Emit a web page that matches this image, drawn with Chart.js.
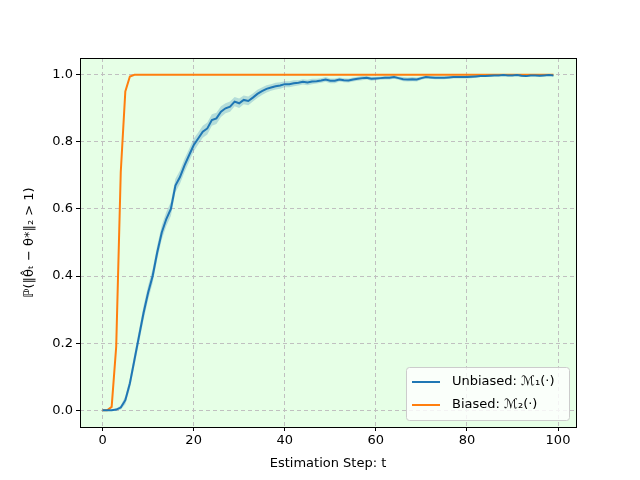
<!DOCTYPE html>
<html>
<head>
<meta charset="utf-8">
<script src="https://cdn.jsdelivr.net/npm/chart.js@4"></script>
<style>
    body { margin: 0; background: #fff; }
    #wrap { width: 640px; height: 480px; }
</style>
</head>
<body>
<div id="wrap"><canvas id="myChart" width="640" height="480"></canvas></div>
<script>
// estimation steps 0..99
const steps = [
    0, 1, 2, 3, 4, 5, 6, 7, 8, 9, 10, 11, 12, 13, 14, 15, 16, 17, 18, 19,
    20, 21, 22, 23, 24, 25, 26, 27, 28, 29, 30, 31, 32, 33, 34, 35, 36, 37, 38, 39,
    40, 41, 42, 43, 44, 45, 46, 47, 48, 49, 50, 51, 52, 53, 54, 55, 56, 57, 58, 59,
    60, 61, 62, 63, 64, 65, 66, 67, 68, 69, 70, 71, 72, 73, 74, 75, 76, 77, 78, 79,
    80, 81, 82, 83, 84, 85, 86, 87, 88, 89, 90, 91, 92, 93, 94, 95, 96, 97, 98, 99
];

const unbiased = [
    0.000, 0.000, 0.000, 0.002, 0.008, 0.030, 0.080, 0.150, 0.220, 0.290,
    0.350, 0.400, 0.470, 0.530, 0.570, 0.600, 0.670, 0.695, 0.730, 0.760,
    0.790, 0.810, 0.830, 0.840, 0.865, 0.870, 0.890, 0.900, 0.905, 0.920,
    0.915, 0.925, 0.922, 0.932, 0.943, 0.951, 0.958, 0.962, 0.966, 0.968,
    0.972, 0.972, 0.975, 0.976, 0.979, 0.977, 0.980, 0.981, 0.983, 0.986,
    0.982, 0.982, 0.986, 0.984, 0.983, 0.986, 0.988, 0.990, 0.991, 0.988,
    0.989, 0.990, 0.991, 0.991, 0.993, 0.990, 0.987, 0.986, 0.987, 0.986,
    0.990, 0.993, 0.992, 0.991, 0.991, 0.991, 0.992, 0.993, 0.993, 0.993,
    0.993, 0.994, 0.995, 0.996, 0.996, 0.997, 0.998, 0.998, 0.999, 0.998,
    0.998, 0.999, 0.997, 0.996, 0.998, 0.998, 0.997, 0.998, 0.999, 0.998
];

// half width of the shaded band around the unbiased curve
const unbiasedErr = [
    0.000, 0.000, 0.000, 0.003, 0.006, 0.012, 0.016, 0.019, 0.020, 0.021,
    0.021, 0.021, 0.021, 0.021, 0.021, 0.021, 0.020, 0.020, 0.020, 0.019,
    0.019, 0.018, 0.018, 0.018, 0.017, 0.017, 0.016, 0.015, 0.015, 0.014,
    0.014, 0.013, 0.013, 0.012, 0.012, 0.011, 0.011, 0.010, 0.010, 0.010,
    0.009, 0.009, 0.009, 0.008, 0.008, 0.008, 0.008, 0.007, 0.007, 0.007,
    0.007, 0.007, 0.006, 0.006, 0.006, 0.006, 0.006, 0.006, 0.005, 0.006,
    0.005, 0.005, 0.005, 0.005, 0.005, 0.005, 0.006, 0.006, 0.006, 0.006,
    0.005, 0.004, 0.004, 0.004, 0.004, 0.004, 0.004, 0.004, 0.004, 0.004,
    0.004, 0.004, 0.003, 0.003, 0.003, 0.003, 0.002, 0.002, 0.002, 0.002,
    0.002, 0.002, 0.003, 0.003, 0.002, 0.002, 0.003, 0.002, 0.002, 0.002
];

const biased = [
    0.000, 0.000, 0.010, 0.190, 0.710, 0.950, 0.995, 1.000, 1.000, 1.000,
    1.000, 1.000, 1.000, 1.000, 1.000, 1.000, 1.000, 1.000, 1.000, 1.000,
    1.000, 1.000, 1.000, 1.000, 1.000, 1.000, 1.000, 1.000, 1.000, 1.000,
    1.000, 1.000, 1.000, 1.000, 1.000, 1.000, 1.000, 1.000, 1.000, 1.000,
    1.000, 1.000, 1.000, 1.000, 1.000, 1.000, 1.000, 1.000, 1.000, 1.000,
    1.000, 1.000, 1.000, 1.000, 1.000, 1.000, 1.000, 1.000, 1.000, 1.000,
    1.000, 1.000, 1.000, 1.000, 1.000, 1.000, 1.000, 1.000, 1.000, 1.000,
    1.000, 1.000, 1.000, 1.000, 1.000, 1.000, 1.000, 1.000, 1.000, 1.000,
    1.000, 1.000, 1.000, 1.000, 1.000, 1.000, 1.000, 1.000, 1.000, 1.000,
    1.000, 1.000, 1.000, 1.000, 1.000, 1.000, 1.000, 1.000, 1.000, 1.000
];

const xTicks = [0, 20, 40, 60, 80, 100];
const yTicks = [0.0, 0.2, 0.4, 0.6, 0.8, 1.0];
const seriesLabels = ['Unbiased: \u2133\u2081(\u00b7)', 'Biased: \u2133\u2082(\u00b7)'];
const xTitle = 'Estimation Step: t';
const yTitle = '\u2119(\u2016\u03b8\u0302\u209c \u2212 \u03b8*\u2016\u2082 > 1)';

const blue = '#1f77b4';
const orange = '#ff7f0e';
const font = "'DejaVu Sans', sans-serif";

function toPoints(values) {
    return steps.map((x, i) => ({ x: x, y: values[i] }));
}

// plot background + frame + legend, matplotlib style
const framePlugin = {
    id: 'frame',
    beforeDraw(chart) {
        const a = chart.chartArea;
        const ctx = chart.ctx;
        ctx.save();
        ctx.fillStyle = '#e6ffe6';
        ctx.fillRect(a.left, a.top, a.right - a.left, a.bottom - a.top);
        ctx.restore();
    },
    afterDraw(chart) {
        const a = chart.chartArea;
        const ctx = chart.ctx;
        ctx.save();
        ctx.strokeStyle = '#000';
        ctx.lineWidth = 1;
        ctx.strokeRect(Math.round(a.left) + 0.5, Math.round(a.top) + 0.5,
            Math.round(a.right - a.left), Math.round(a.bottom - a.top));

        // legend, lower right
        const lx = 406, ly = 367, lw = 163, lh = 53;
        ctx.fillStyle = 'rgba(255,255,255,0.8)';
        ctx.strokeStyle = '#cccccc';
        ctx.beginPath();
        ctx.roundRect(lx + 0.5, ly + 0.5, lw, lh, 3);
        ctx.fill();
        ctx.stroke();

        const colors = [blue, orange];
        ctx.font = '13px ' + font;
        ctx.textBaseline = 'middle';
        ctx.lineWidth = 2;
        seriesLabels.forEach((label, i) => {
            const y = ly + 15 + i * 23;
            ctx.strokeStyle = colors[i];
            ctx.beginPath();
            ctx.moveTo(lx + 6, y);
            ctx.lineTo(lx + 34, y);
            ctx.stroke();
            ctx.fillStyle = '#000';
            ctx.fillText(label, lx + 46, y);
        });
        ctx.restore();
    }
};

const ctx = document.getElementById('myChart');

new Chart(ctx, {
    type: 'line',
    data: {
        datasets: [
            {
                label: 'upper',
                data: toPoints(unbiased.map((v, i) => v + unbiasedErr[i])),
                borderWidth: 0,
                borderColor: 'rgba(0,0,0,0)',
                pointRadius: 0,
                fill: false,
            },
            {
                label: 'lower',
                data: toPoints(unbiased.map((v, i) => v - unbiasedErr[i])),
                borderWidth: 0,
                borderColor: 'rgba(0,0,0,0)',
                backgroundColor: 'rgba(31,119,180,0.25)',
                pointRadius: 0,
                fill: '-1',
            },
            {
                label: seriesLabels[0],
                data: toPoints(unbiased),
                borderColor: blue,
                borderWidth: 2,
                pointRadius: 0,
                tension: 0,
            },
            {
                label: seriesLabels[1],
                data: toPoints(biased),
                borderColor: orange,
                borderWidth: 2,
                pointRadius: 0,
                tension: 0,
            },
        ]
    },
    options: {
        responsive: false,
        animation: false,
        layout: { padding: { top: 58, right: 64, left: 0, bottom: 0 } },
        plugins: {
            legend: { display: false },
            tooltip: { enabled: false },
        },
        scales: {
            x: {
                type: 'linear',
                min: -4.95,
                max: 103.95,
                afterBuildTicks: (scale) => { scale.ticks = xTicks.map(v => ({ value: v })); },
                afterFit: (scale) => { scale.height = 53; },
                ticks: {
                    color: '#000',
                    font: { family: font, size: 13 },
                    padding: 2,
                    maxRotation: 0,
                },
                grid: {
                    color: '#c0c0c0',
                    borderDash: [4, 3],
                    tickColor: '#000',
                    tickLength: 4,
                    tickBorderDash: [],
                },
                border: { display: false, dash: [4, 3] },
                title: {
                    display: true,
                    text: xTitle,
                    color: '#000',
                    font: { family: font, size: 13 },
                    padding: { top: 0, bottom: 9 },
                },
            },
            y: {
                type: 'linear',
                min: -0.05,
                max: 1.05,
                afterBuildTicks: (scale) => { scale.ticks = yTicks.map(v => ({ value: v })); },
                afterFit: (scale) => { scale.width = 80; },
                ticks: {
                    color: '#000',
                    font: { family: font, size: 13 },
                    padding: 3,
                    callback: (v) => v.toFixed(1),
                },
                grid: {
                    color: '#c0c0c0',
                    borderDash: [4, 3],
                    tickColor: '#000',
                    tickLength: 4,
                    tickBorderDash: [],
                },
                border: { display: false, dash: [4, 3] },
                title: {
                    display: true,
                    text: yTitle,
                    color: '#000',
                    font: { family: font, size: 13 },
                    padding: { top: 22, bottom: 4 },
                },
            },
        },
    },
    plugins: [framePlugin],
});
</script>
</body>
</html>
